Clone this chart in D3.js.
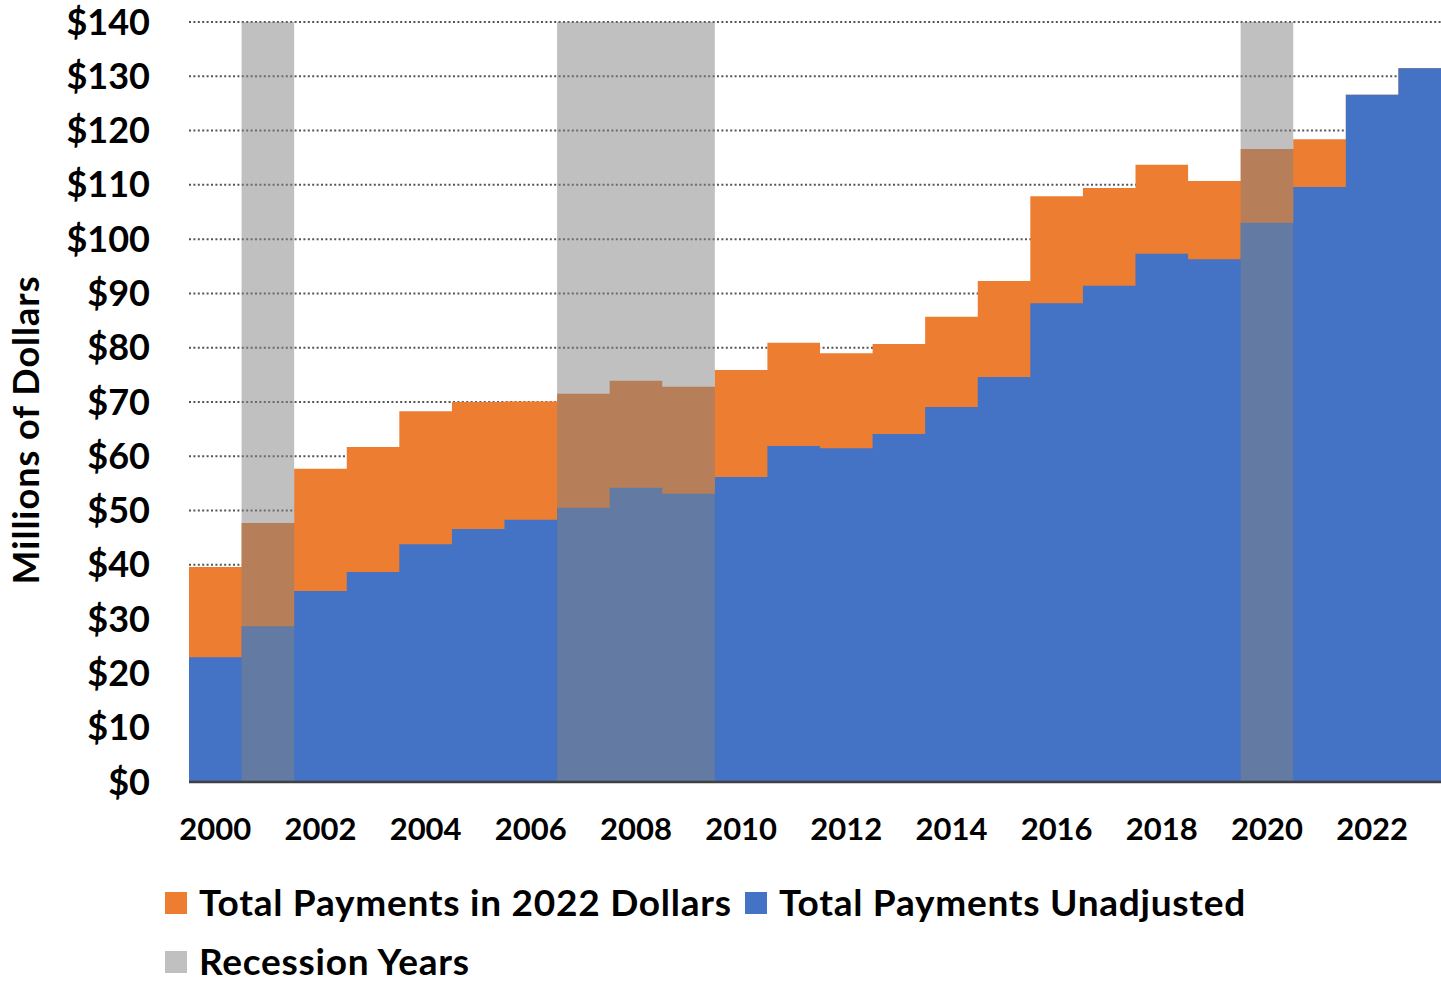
<!DOCTYPE html>
<html>
<head>
<meta charset="utf-8">
<script src="https://cdn.jsdelivr.net/npm/d3@7"></script>
<style>
  body { margin: 0; background: #fff; overflow: hidden; }
  text { font-family: Lato, "Open Sans", sans-serif; font-weight: bold; fill: #000; }
</style>
</head>
<body>
<div id="chart"></div>
<script>
const width = 1441
const height = 985
// el area del grafico sigue un poco mas alla del borde derecho (se recorta)
const margin = {top: 22, bottom: 203, left: 189, right: -10}

// datos (millones de dolares)
const years = d3.range(2000, 2024)
const adjusted = [39.6, 47.7, 57.7, 61.7, 68.3, 70.0, 70.1, 71.5, 73.9, 72.8, 75.9, 80.9,
                  79.0, 80.7, 85.7, 92.3, 107.9, 109.4, 113.7, 110.7, 116.6, 118.4, 126.6, 131.5]
const unadjusted = [23.0, 28.7, 35.2, 38.7, 43.8, 46.6, 48.3, 50.5, 54.2, 53.1, 56.2, 61.9,
                    61.5, 64.1, 69.1, 74.6, 88.2, 91.4, 97.3, 96.3, 103.0, 109.6, 126.6, 131.5]
const recessionYears = [2001, 2007, 2008, 2009, 2020]
const yTicks = d3.range(0, 141, 10)
const xTicks = d3.range(2000, 2023, 2)

const svg = d3.select("#chart").append("svg").attr("width", width).attr("height", height)

const x = d3.scaleBand().domain(years).range([margin.left, width - margin.right]).padding(0)
const y = d3.scaleLinear().domain([0, 140]).range([height - margin.bottom, margin.top])

// lineas de grilla punteadas
svg.append("g").selectAll("line").data(yTicks.filter(d => d > 0)).join("line")
    .attr("x1", margin.left).attr("x2", width)
    .attr("y1", d => y(d)).attr("y2", d => y(d))
    .attr("stroke", "#555").attr("stroke-width", 2).attr("stroke-dasharray", "2,2.4")

// areas escalonadas
const stepData = vals => vals.map((v, i) => ({x: x(years[i]), v}))
    .concat([{x: x(years[years.length - 1]) + x.bandwidth(), v: vals[vals.length - 1]}])
const area = d3.area().x(d => d.x).y0(y(0)).y1(d => y(d.v)).curve(d3.curveStepAfter)

svg.append("path").datum(stepData(adjusted)).attr("d", area).attr("fill", "#ed7d31")
svg.append("path").datum(stepData(unadjusted)).attr("d", area).attr("fill", "#4472c4")

// bandas de recesion (agrupa años consecutivos)
const spans = []
recessionYears.forEach(yr => {
    const last = spans[spans.length - 1]
    if (last && last[1] === yr - 1) last[1] = yr
    else spans.push([yr, yr])
})
svg.append("g").selectAll("rect").data(spans).join("rect")
    .attr("x", d => x(d[0]))
    .attr("width", d => x(d[1]) + x.bandwidth() - x(d[0]))
    .attr("y", y(140)).attr("height", y(0) - y(140))
    .attr("fill", "rgb(130,130,130)").attr("fill-opacity", 0.5)

// eje x
svg.append("line")
    .attr("x1", margin.left).attr("x2", width)
    .attr("y1", y(0)).attr("y2", y(0))
    .attr("stroke", "#404040").attr("stroke-width", 2.5)

svg.append("g").selectAll("text").data(xTicks).join("text")
    .attr("x", d => x(d) + x.bandwidth() / 2)
    .attr("y", 829).attr("dy", "0.35em")
    .attr("text-anchor", "middle").attr("font-size", 31)
    .text(d => d)

// eje y
svg.append("g").selectAll("text").data(yTicks).join("text")
    .attr("x", 150).attr("y", d => y(d)).attr("dy", "0.35em")
    .attr("text-anchor", "end").attr("font-size", 36)
    .text(d => "$" + d)

svg.append("text")
    .attr("transform", "translate(26, 430) rotate(-90)")
    .attr("dy", "0.35em").attr("text-anchor", "middle").attr("font-size", 36)
    .attr("letter-spacing", 1)
    .text("Millions of Dollars")

// leyenda
const legend = [
    {label: "Total Payments in 2022 Dollars", color: "#ed7d31", x: 165, y: 903},
    {label: "Total Payments Unadjusted", color: "#4472c4", x: 745, y: 903},
    {label: "Recession Years", color: "#c0c0c0", x: 165, y: 962}
]
const lg = svg.append("g").selectAll("g").data(legend).join("g")
    .attr("transform", d => `translate(${d.x}, ${d.y})`)
lg.append("rect").attr("x", 0).attr("y", -11).attr("width", 22).attr("height", 22).attr("fill", d => d.color)
lg.append("text").attr("x", 34).attr("dy", "0.35em").attr("font-size", 37)
    .attr("letter-spacing", 0.75).text(d => d.label)
</script>
</body>
</html>
